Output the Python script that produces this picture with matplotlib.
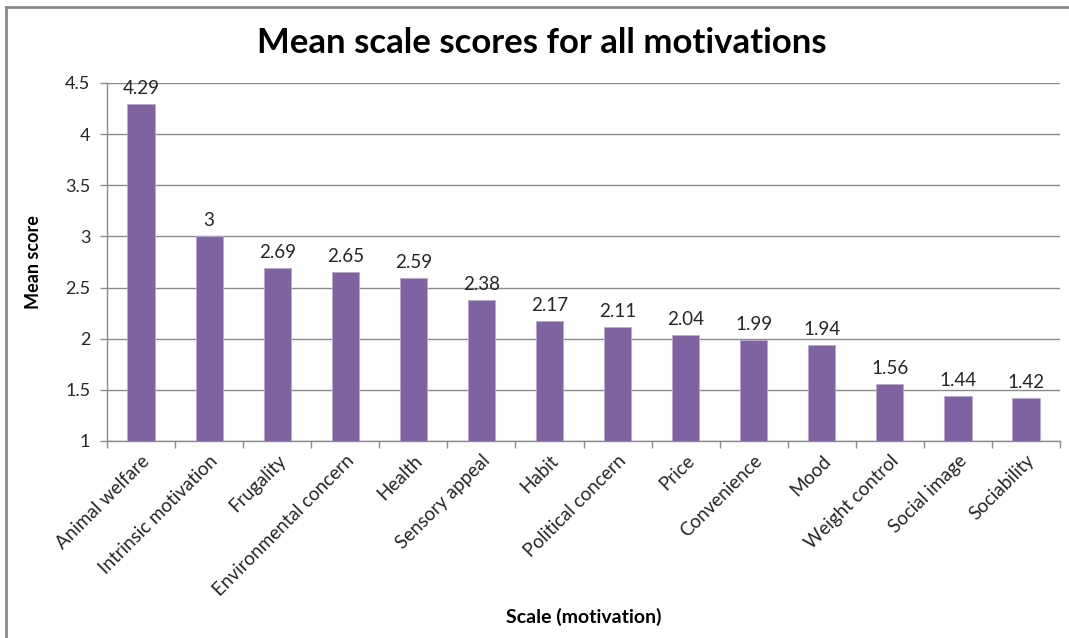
import matplotlib.pyplot as plt
import numpy as np
from matplotlib.lines import Line2D

# Mean scale scores per motivation
motivations = ['Animal welfare', 'Intrinsic motivation', 'Frugality',
               'Environmental concern', 'Health', 'Sensory appeal', 'Habit',
               'Political concern', 'Price', 'Convenience', 'Mood',
               'Weight control', 'Social image', 'Sociability']
mean_scores = [4.29, 3, 2.69, 2.65, 2.59, 2.38, 2.17, 2.11, 2.04, 1.99,
               1.94, 1.56, 1.44, 1.42]
y_ticks = [1, 1.5, 2, 2.5, 3, 3.5, 4, 4.5]

plt.rcParams['font.family'] = ['Lato', 'DejaVu Sans']
text_col = '#262626'
grid_col = '#8c8c8c'
bar_col = '#8064A2'

fig = plt.figure(figsize=(10.69, 6.38), dpi=100)
ax = fig.add_axes([0.1001, 0.3088, 0.8915, 0.5612])

x = np.arange(len(motivations))
bars = ax.bar(x, mean_scores, width=0.4, bottom=0, color=bar_col,
              edgecolor='#b9a7d0', linewidth=0.6, zorder=3)

for xi, v in zip(x, mean_scores):
    ax.annotate(f'{v:g}', (xi, v), xytext=(0, 5), textcoords='offset points',
                ha='center', va='bottom', fontsize=13.5, color=text_col, zorder=4)

ax.set_xlim(-0.5, len(motivations) - 0.5)
ax.set_ylim(1, 4.5)
ax.set_yticks(y_ticks)
ax.set_yticklabels([f'{t:g}' for t in y_ticks])
ax.yaxis.grid(True, color=grid_col, linewidth=1.0, zorder=0)

# category labels centred under bars, tick marks at category boundaries
ax.set_xticks(x)
ax.set_xticklabels(motivations, rotation=45, ha='right', rotation_mode='anchor',
                   fontsize=13.5, color=text_col)
ax.tick_params(axis='x', length=0, pad=8)
ax.set_xticks(np.arange(-0.5, len(motivations)), minor=True)
ax.tick_params(axis='x', which='minor', length=5, color=grid_col, width=1.0)
ax.tick_params(axis='y', length=5, color=grid_col, width=1.0, labelsize=13,
               labelcolor=text_col, pad=7)

for side in ['top', 'right']:
    ax.spines[side].set_visible(False)
for side in ['left', 'bottom']:
    ax.spines[side].set_color(grid_col)
    ax.spines[side].set_linewidth(1.0)

ax.set_ylabel('Mean score', fontsize=13, fontweight='bold', color='black')
ax.set_xlabel('Scale (motivation)', fontsize=14, fontweight='bold', color='black')
ax.xaxis.set_label_coords(0.5, -0.465)
ax.yaxis.set_label_coords(-0.068, 0.5)

fig.text(0.507, 0.933, 'Mean scale scores for all motivations', ha='center',
         va='center', fontsize=25, fontweight='bold', color='black')

# chart frame along top and left edges
fig.add_artist(Line2D([6 / 1069, 1], [1 - 7 / 638] * 2, transform=fig.transFigure,
                      color='#8a8a8a', linewidth=2))
fig.add_artist(Line2D([6 / 1069] * 2, [0, 1 - 7 / 638], transform=fig.transFigure,
                      color='#8a8a8a', linewidth=2))

fig.savefig('out.png', dpi=100, facecolor='white')
